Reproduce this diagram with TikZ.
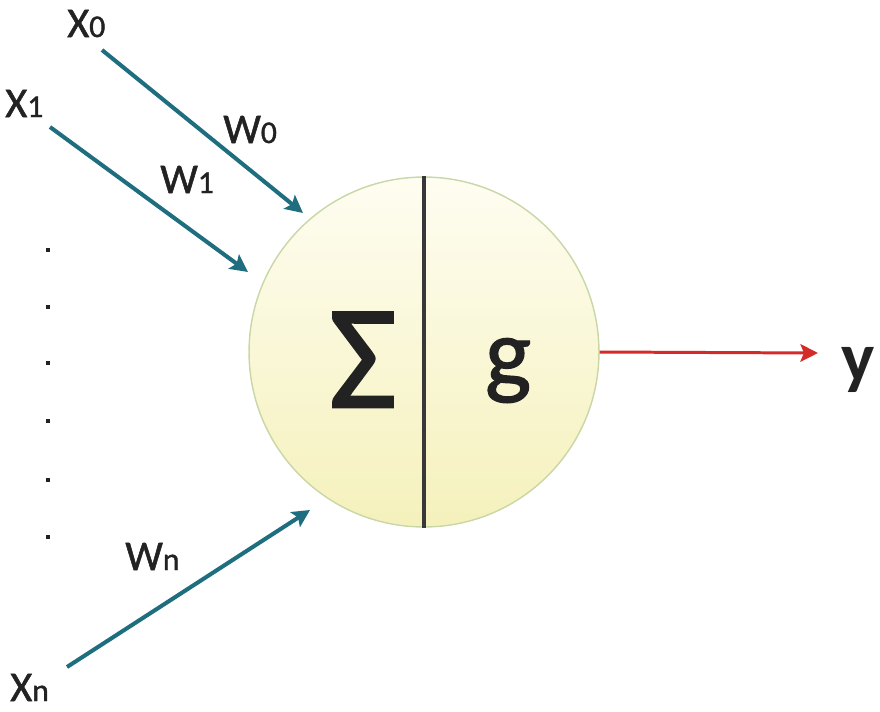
\documentclass[tikz,border=0pt]{standalone}
\usepackage{fontspec}
\setmainfont{Carlito}
\newfontfamily\heavyfont{Carlito}[FakeBold=1.2]
\newfontfamily\heaviestfont{Carlito}[FakeBold=1.7]
\usetikzlibrary{arrows.meta}
\definecolor{teal1}{HTML}{1E6E80}
\definecolor{red1}{HTML}{D42A2A}
\definecolor{rim}{HTML}{C9D7A6}
\definecolor{fillTop}{HTML}{FEFDF1}
\definecolor{fillBot}{HTML}{F5F1BC}
\definecolor{ink}{HTML}{222222}
\tikzset{
  inarrow/.style={draw=teal1, line width=2.3pt, -{Stealth[length=10pt,width=10pt,inset=2pt]}},
  outarrow/.style={draw=red1, line width=1.7pt, -{Stealth[length=10pt,width=10pt,inset=2pt]}},
  lbl/.style={inner sep=0pt, anchor=base west, text=ink, font=\heavyfont\fontsize{24}{28}\selectfont},
  dotmark/.style={fill=ink, inner sep=0pt, minimum size=2.4pt, rectangle},
}
\newcommand{\smallsub}[1]{{\fontsize{18}{20}\selectfont #1}}
\begin{document}
\begin{tikzpicture}[x=0.02cm,y=-0.02cm]
\useasboundingbox (0,0) rectangle (880,711);
% neuron
\node[circle, minimum size=7cm, inner sep=0pt, draw=rim, line width=0.8pt,
      top color=fillTop, bottom color=fillBot] (neuron) at (424,352) {};
\draw[ink!90, line width=2.2pt] (neuron.north) -- (neuron.south);
\node[inner sep=0pt, anchor=base, text=ink, font=\heaviestfont\fontsize{84}{90}\selectfont] (sigma) at (363,407) {Σ};
\node[inner sep=0pt, anchor=base, text=ink, font=\heavyfont\fontsize{56}{60}\selectfont] (g) at (508,386) {g};
% labels
\node[lbl] (x0) at (67,37) {X\smallsub{0}};
\node[lbl] (x1) at (5,117) {X\smallsub{1}};
\node[lbl] (w0) at (223,143) {W\smallsub{0}};
\node[lbl] (w1) at (160,193) {W\smallsub{1}};
\node[lbl] (wn) at (125,570) {W\smallsub{n}};
\node[lbl] (xn) at (10,701) {X\smallsub{n}};
\node[lbl, font=\bfseries\fontsize{40}{44}\selectfont] (y) at (841,381) {y};
% dots
\foreach \i/\yy in {1/250,2/307,3/363,4/421,5/480,6/537}
  \node[dotmark] (d\i) at (48,\yy) {};
% arrow end points
\coordinate (s0) at (102,50);
\coordinate (e0) at (303,213);
\coordinate (s1) at (50,127);
\coordinate (e1) at (248,272);
\coordinate (sn) at (67,667);
\coordinate (en) at (310,510);
\coordinate (ey) at (818,353);
\draw[inarrow] (s0) -- (e0);
\draw[inarrow] (s1) -- (e1);
\draw[inarrow] (sn) -- (en);
\draw[outarrow] (neuron.east) -- (ey);
\end{tikzpicture}
\end{document}
